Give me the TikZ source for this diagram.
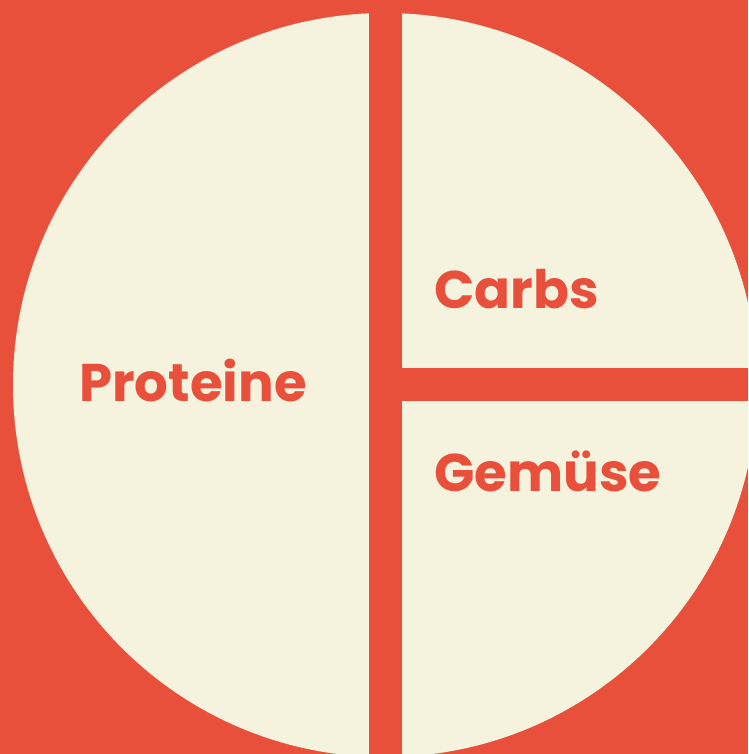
\documentclass[tikz,border=0pt]{standalone}
\usepackage{xcolor}
\usepackage{fontspec}
\usepackage{tikz}
\usetikzlibrary{positioning}
\setmainfont{Poppins}[BoldFont={* Bold}]
\definecolor{platered}{HTML}{E9503C}
\definecolor{platecream}{HTML}{F5F2DE}

\begin{document}
\begin{tikzpicture}[x=1pt, y=-1pt,
    label/.style={inner sep=0pt, anchor=base west, text=platered,
                  font=\bfseries\fontsize{53}{53}\selectfont}]
    \fill[platered] (0,0) rectangle (748,754);
    \useasboundingbox (0,0) rectangle (748,754);
    \clip (0,0) rectangle (748,754);
    % the plate
    \fill[platecream] (385,385) circle[radius=372];
    % dividers
    \fill[platered] (368.5,-5) rectangle (401.5,760);
    \fill[platered] (385,368) rectangle (760,401);
    % portions
    \node[label] (protein) at (79,401) {Proteine};
    \node[label] (carbs) at (434,308) {Carbs};
    \node[label] (veggies) at (434,491) {Gemüse};
  \end{tikzpicture}
\end{document}
